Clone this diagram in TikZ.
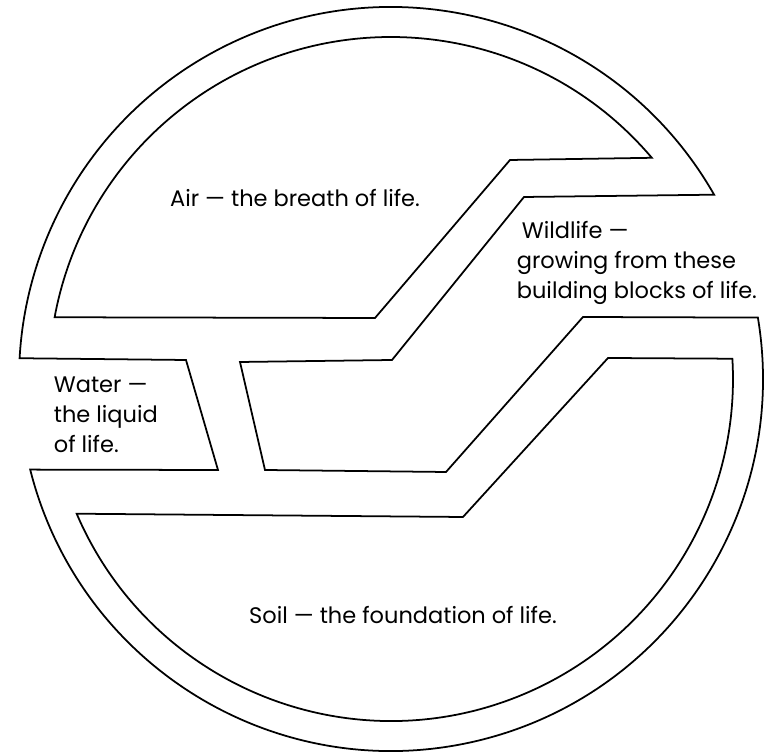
\documentclass[tikz,border=0pt]{standalone}
\usepackage{fontspec}
\setmainfont{Poppins}

\begin{document}
\begin{tikzpicture}[line width=1pt,
    caption/.style={font=\fontsize{12.8}{17}\selectfont, align=left, inner sep=0pt}]
  \useasboundingbox (-7.82,-7.50) rectangle (7.56,7.58);

  % Outer outline with the water notch and the wildlife strip
  \draw (29.7:7.44) arc[start angle=29.7, end angle=176.8, radius=7.44]
     -- (-4.10,0.38) -- (-3.46,-1.82) -- (194.1:7.44)
     arc[start angle=194.1, end angle=369.5, radius=7.44]
     -- (3.84,1.24) -- (1.10,-1.86) -- (-2.52,-1.82) -- (-3.02,0.34)
     -- (0.02,0.38) -- (2.66,3.64) -- cycle;

  % Air
  \draw (40.3:6.84) arc[start angle=40.3, end angle=169.6, radius=6.84]
     -- (-0.32,1.22) -- (2.38,4.38) -- cycle;

  % Soil
  \draw (203.2:6.84) arc[start angle=203.2, end angle=363.4, radius=6.84]
     -- (4.34,0.42) -- (1.44,-2.76) -- cycle;

  % Labels
  \node[caption] (air) at (-1.92,3.62) {Air --- the breath of life.};
  \node[caption, anchor=west] (wildlife) at (2.50,2.32)
     {\hspace*{1mm}Wildlife ---\\growing from these\\building blocks of life.};
  \node[caption, anchor=west] (water) at (-6.76,-0.72) {Water ---\\the liquid\\of life.};
  \node[caption] (soil) at (0.24,-4.72) {Soil --- the foundation of life.};
\end{tikzpicture}
\end{document}
